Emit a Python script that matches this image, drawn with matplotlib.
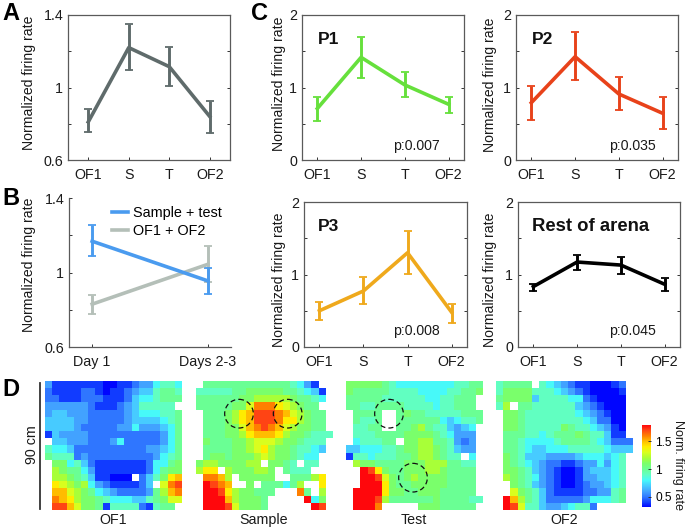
import numpy as np
import matplotlib
matplotlib.use("Agg")
import matplotlib.pyplot as plt
from matplotlib.colors import LinearSegmentedColormap, Normalize
from matplotlib.cm import ScalarMappable
from matplotlib.patches import Circle

plt.rcParams['font.family'] = ['Liberation Sans', 'DejaVu Sans']
W, H = 685, 529
SESSIONS = ['OF1', 'S', 'T', 'OF2']
DAYS = ['Day 1', 'Days 2-3']

# panel A
a_mean = [0.81, 1.22, 1.115, 0.84]
a_low = [0.754, 1.095, 1.008, 0.747]
a_high = [0.88, 1.35, 1.225, 0.924]
# panel B
b_st_mean = [1.168, 0.955]
b_st_low = [1.09, 0.887]
b_st_high = [1.254, 1.026]
b_of_mean = [0.83, 1.044]
b_of_low = [0.775, 0.951]
b_of_high = [0.88, 1.142]
# panel C
p1_mean = [0.71, 1.416, 1.035, 0.768]
p1_low = [0.543, 1.13, 0.874, 0.653]
p1_high = [0.874, 1.69, 1.214, 0.874]
p2_mean = [0.79, 1.425, 0.91, 0.644]
p2_low = [0.55, 1.10, 0.69, 0.428]
p2_high = [1.02, 1.765, 1.14, 0.864]
p3_mean = [0.5, 0.773, 1.3, 0.48]
p3_low = [0.37, 0.59, 1.007, 0.334]
p3_high = [0.622, 0.96, 1.6, 0.6]
rest_mean = [0.833, 1.172, 1.13, 0.865]
rest_low = [0.773, 1.066, 1.007, 0.773]
rest_high = [0.874, 1.268, 1.24, 0.957]

# panel D: firing rate x 10 per cell, base-36 digit (a=1.0 ... i=1.8), '.' = not visited
of1_rows = [
    "6444444433445668998",
    "5444455434456779aa9",
    "5544455544457889aaa",
    "666666544456799999.",
    "677666555556788899a",
    "777766555556777789a",
    "777765555566866678a",
    "476666555555555568a",
    ".77666555685555568a",
    "988755555555556678a",
    "a99956555555555689a",
    ".bb89754444444588ab",
    ".cbaa86444444458abb",
    ".ccba9744333.579bef",
    ".edcbc865444457.dgh",
    ".ffdcba87655556acfg",
    ".gfecbba9888779abdd",
    ".hhfdbba49999549aa.",
]
sample_rows = [
    ".aaaaaaaaaaaa9864..",
    "99999aabbbbbaa9874.",
    "aaaaaabbcccccbaa98.",
    "aaaaabbdgggedcbaa..",
    ".aaabcefhhhgfdcbaa.",
    ".aaabcefhhhgeecbaa.",
    ".aaabbdfghgfdcbbaa.",
    ".aaabbcefffecbba999",
    ".baaabbcdddcbba999.",
    ".aaaabbcdecbba9987.",
    ".abbabbbcdcbba988..",
    "bccbbbbcc.bba9.99..",
    "cee.cbbbccb.a999...",
    ".ggfc.bbbbb..aaace.",
    ".ihgf..b.aaa8ac..e.",
    ".iihecbbaaa...ga.c.",
    ".iiifcbbba.....i8b.",
    ".iiihdbbba......ih.",
]
test_rows = [
    "bbbbba98888888899aa",
    "baaaaa9999888899aab",
    "aaaaa9999998899aaa.",
    "aa99aaaa9999899aaa.",
    ".aaaa..abaa99999aaa",
    ".a99a..aaaaaa87899a",
    ".99aa..aabca997678.",
    ".999aaaabbbba98666.",
    ".8999aa.bbccaa9656.",
    "7788899abbccba9766.",
    "4998999aabccba99.8.",
    ".cbbaaaabbbcccaa99.",
    "..ihebaabbbccbaaaa.",
    "..iihdbabcbbbbaaaa.",
    "..iiiebaabbbbbaaaa.",
    ".iiiiebbaabbbaaaaa.",
    ".iiihcaaaaaabaaaa99",
    ".iiig.....bbbaaaaa.",
]
of2_rows = [
    "9aaaa.987654433345.",
    "9bbbb9998765433334.",
    "abbbb7999988543333.",
    "9c.aa9999997654333.",
    ".bba99999998765433.",
    ".bba99999999875533.",
    ".bba99999ba9987643.",
    ".aaa9989aaaba99744.",
    ".aa988889aaaa987555",
    ".aa9877888999998777",
    ".ba977766667888789.",
    ".ba987655445668689.",
    ".bba97654334677789.",
    ".cba98654334667789.",
    "..ba97654334566789.",
    "..dba975444455669a.",
    ".ifca975555568889a.",
    ".ihd9976678995.....",
]
heatmap_names = ['OF1', 'Sample', 'Test', 'OF2']
heatmap_rows = [of1_rows, sample_rows, test_rows, of2_rows]
sample_circles = [(5.54, 4.06), (12.33, 4.06)]
test_circles = [(5.54, 4.06), (8.89, 12.99)]


def parse(rows):
    return np.array([[np.nan if c == '.' else int(c, 36) / 10 for c in r] for r in rows])


def add_ax(l, t, r, b):
    return fig.add_axes([l / W, 1 - b / H, (r - l) / W, (b - t) / H])


def ftext(x, y, s, **kw):
    return fig.text(x / W, 1 - y / H, s, **kw)


def style(ax, ylim, yticks, ylabels, xticks, xlabels, xlim):
    ax.set_xlim(*xlim)
    ax.set_ylim(*ylim)
    ax.set_yticks(yticks, ylabels)
    ax.set_xticks(xticks, xlabels)
    ax.tick_params(axis='y', direction='in', left=True, right=True, length=2.5, width=0.7,
                   labelsize=10.3, pad=3.5, color='#333333', labelcolor='#1a1a1a')
    ax.tick_params(axis='x', direction='in', bottom=True, top=False, length=2.5, width=0.7,
                   labelsize=10.3, pad=5.5, color='#333333', labelcolor='#1a1a1a')
    for s in ax.spines.values():
        s.set_color('#5a5a5a')
        s.set_linewidth(0.9)


def eb(ax, x, mean, low, high, color, label=None):
    mean, low, high = map(np.array, (mean, low, high))
    ax.errorbar(x, mean, yerr=[mean - low, high - mean], color=color, lw=2.6,
                elinewidth=2.1, capsize=2.6, capthick=1.3, label=label)


fig = plt.figure(figsize=(W / 100, H / 100), dpi=100)
xs = [1, 2, 3, 4]

# A
ax = add_ax(68, 15, 230, 160)
eb(ax, xs, a_mean, a_low, a_high, '#5f6b6b')
style(ax, (0.6, 1.4), [0.6, 0.8, 1, 1.2, 1.4], ['0.6', '', '1', '', '1.4'], xs, SESSIONS, (0.5, 4.5))

# B
ax = add_ax(69, 198, 231, 347)
eb(ax, [1, 2], b_of_mean, b_of_low, b_of_high, '#b4bfb8', 'OF1 + OF2')
eb(ax, [1, 2], b_st_mean, b_st_low, b_st_high, '#4a9bef', 'Sample + test')
style(ax, (0.6, 1.4), [0.6, 0.8, 1, 1.2, 1.4], ['0.6', '', '1', '', '1.4'], [1, 2], DAYS, (0.8, 2.2))
ax.spines['top'].set_visible(False)
ax.spines['right'].set_visible(False)
ax.tick_params(axis='y', right=False)
ax.legend([plt.Line2D([], [], color='#4a9bef', lw=2.6), plt.Line2D([], [], color='#b4bfb8', lw=2.6)],
          ['Sample + test', 'OF1 + OF2'], loc='upper left', bbox_to_anchor=((108 - 69) / 162, 0.975),
          frameon=False, fontsize=10.4, handlelength=1.05, handletextpad=0.35, labelspacing=0.28,
          borderaxespad=0, borderpad=0.3)

# C
panels = [
    (302, 15, 464, 160, p1_mean, p1_low, p1_high, '#66e03c', 'P1', (318, 44), 12.5, 'p:0.007', (393, 150)),
    (516, 15, 678, 160, p2_mean, p2_low, p2_high, '#e8421a', 'P2', (532, 44), 12.5, 'p:0.035', (609, 150)),
    (304, 202, 467, 347, p3_mean, p3_low, p3_high, '#efa91c', 'P3', (318, 231), 12.5, 'p:0.008', (393, 335)),
    (518, 202, 680, 347, rest_mean, rest_low, rest_high, '#000000', 'Rest of arena', (532, 231), 13.3, 'p:0.045', (609, 335)),
]
for l_, t_, r_, b_, m, lo, hi, c, name, npos, nfs, ptxt, ppos in panels:
    ax = add_ax(l_, t_, r_, b_)
    eb(ax, xs, m, lo, hi, c)
    style(ax, (0, 2), [0, 0.5, 1, 1.5, 2], ['0', '', '1', '', '2'], xs, SESSIONS, (0.65, 4.35))
    ftext(npos[0], npos[1], name, fontweight='bold', fontsize=nfs, va='baseline', color='#111111')
    ftext(ppos[0], ppos[1], ptxt, fontsize=10.2, va='baseline', color='#1a1a1a')

# y labels
for x_, y_ in [(29, 83), (29, 265), (279, 84), (490, 85), (279, 280), (490, 280)]:
    ftext(x_, y_, 'Normalized firing rate', rotation=90, ha='center', va='center', fontsize=10.1, color='#1a1a1a')

# panel letters
for s, x_, y_ in [('A', 2, 20), ('B', 2, 205), ('C', 251, 20), ('D', 2, 396)]:
    ftext(x_, y_, s, fontweight='bold', fontsize=17, va='baseline', color='black')

# D
VMIN, VMAX = 0.32, 1.79
color_stops = [
    (0.32, (0.00, 0.02, 1.00)),
    (0.40, (0.07, 0.24, 1.00)),
    (0.50, (0.19, 0.47, 1.00)),
    (0.60, (0.26, 0.64, 1.00)),
    (0.70, (0.28, 0.80, 1.00)),
    (0.80, (0.28, 0.98, 0.98)),
    (0.90, (0.38, 1.00, 0.76)),
    (1.00, (0.42, 1.00, 0.58)),
    (1.10, (0.48, 1.00, 0.42)),
    (1.20, (0.66, 1.00, 0.22)),
    (1.30, (0.85, 1.00, 0.12)),
    (1.40, (1.00, 0.93, 0.00)),
    (1.50, (1.00, 0.74, 0.00)),
    (1.60, (1.00, 0.50, 0.00)),
    (1.70, (1.00, 0.27, 0.08)),
    (1.79, (1.00, 0.03, 0.05)),
]
cmap = LinearSegmentedColormap.from_list(
    'rate', [((v - VMIN) / (VMAX - VMIN), c) for v, c in color_stops], N=512)
norm = Normalize(VMIN, VMAX)
lefts = [45, 195.7, 345.7, 495.7]
for left, name, rows in zip(lefts, heatmap_names, heatmap_rows):
    ax = add_ax(left, 381, left + 136.2, 510)
    ax.imshow(parse(rows), cmap=cmap, norm=norm, interpolation='nearest', aspect='auto')
    ax.axis('off')
    circles = sample_circles if name == 'Sample' else test_circles if name == 'Test' else []
    for c in circles:
        ax.add_patch(Circle(c, 2.0, fill=False, ec='#111111', lw=0.9, ls=(0, (4, 2.5)), clip_on=False))
    ftext(left + 68, 524, name, ha='center', va='baseline', fontsize=10.3, color='#1a1a1a')

fig.add_artist(plt.Line2D([40 / W, 40 / W], [1 - 383 / H, 1 - 509 / H], color='#333333', lw=1.3))
ftext(32, 445, '90 cm', rotation=90, ha='center', va='center', fontsize=10.3, color='#1a1a1a')

cax = add_ax(642, 425, 651, 507)
cb = fig.colorbar(ScalarMappable(norm=norm, cmap=cmap), cax=cax, ticks=[0.5, 1, 1.5])
cb.ax.set_yticklabels(['0.5', '1', '1.5'])
cb.ax.tick_params(direction='in', length=2, width=0.7, labelsize=8.6, pad=3, color='#333333')
cb.outline.set_visible(False)
ftext(678, 465, 'Norm. firing rate', rotation=-90, ha='center', va='center', fontsize=9, color='#1a1a1a')

fig.savefig('out.png', dpi=100)
